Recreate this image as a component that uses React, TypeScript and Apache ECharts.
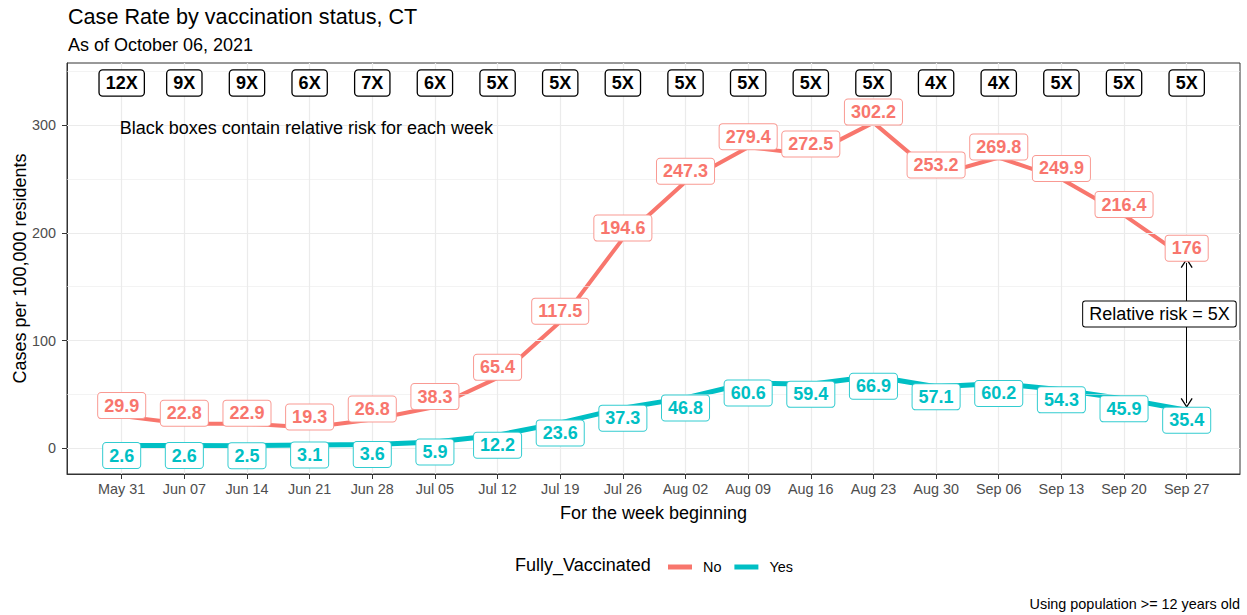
import React, { useEffect, useRef } from "react";
import * as echarts from "echarts";

const weekLabels = ["May 31", "Jun 07", "Jun 14", "Jun 21", "Jun 28", "Jul 05", "Jul 12", "Jul 19", "Jul 26", "Aug 02", "Aug 09", "Aug 16", "Aug 23", "Aug 30", "Sep 06", "Sep 13", "Sep 20", "Sep 27"];
const notVaccinated = [29.9, 22.8, 22.9, 19.3, 26.8, 38.3, 65.4, 117.5, 194.6, 247.3, 279.4, 272.5, 302.2, 253.2, 269.8, 249.9, 216.4, 176];
const fullyVaccinated = [2.6, 2.6, 2.5, 3.1, 3.6, 5.9, 12.2, 23.6, 37.3, 46.8, 60.6, 59.4, 66.9, 57.1, 60.2, 54.3, 45.9, 35.4];
const relativeRisk = ["12X", "9X", "9X", "6X", "7X", "6X", "5X", "5X", "5X", "5X", "5X", "5X", "5X", "4X", "4X", "5X", "5X", "5X"];
const yTicks = [0, 100, 200, 300];
const yMinorGrid = [50, 150, 250, 350];
const riskRowValue = 339;
const noteText = "Black boxes contain relative risk for each week";
const notePoint = [-0.03, 297];
const riskNoteText = "Relative risk = 5X";
const riskNotePoint = [16.565, 124.6];
const arrowWeek = 17;
const arrowTop = 172;
const arrowBottom = 42;

const FONT = "'Liberation Sans', Arial, Helvetica, sans-serif";
const RED = "#F8766D";
const TEAL = "#00BFC4";
const CHEVRON = "path://M5,0 L10,8.6 L9.1,9.2 L5,2.2 L0.9,9.2 L0,8.6 Z";
const HIDDEN_POINT = { color: "rgba(0,0,0,0)", opacity: 1 };

export default function App() {
  const ref = useRef<HTMLDivElement>(null);

  useEffect(() => {
    const chart = echarts.init(ref.current!, null, { renderer: "svg" });
    const xIdx = weekLabels.map((_, i) => i);
    const gridLines = [
      ...yMinorGrid.map((v) => ({ yAxis: v, lineStyle: { width: 0.6, color: "#EBEBEB", type: "solid" } })),
      ...yTicks.map((v) => ({ yAxis: v, lineStyle: { width: 1.2, color: "#EBEBEB", type: "solid" } })),
      ...xIdx.map((v) => ({ xAxis: v, lineStyle: { width: 1.2, color: "#EBEBEB", type: "solid" } })),
    ];

    const valueLabel = (color: string, border: string, values: number[], dy: number) => ({
      show: true,
      position: "inside",
      offset: [0, dy],
      formatter: (p: any) => String(values[p.dataIndex]),
      color,
      opacity: 1,
      fontFamily: FONT,
      fontWeight: "bold",
      fontSize: 18,
      lineHeight: 19,
      backgroundColor: "#ffffff",
      borderColor: border,
      borderWidth: 1,
      borderRadius: 3,
      padding: [3, 6, 3, 6],
    });

    const option: any = {
      animation: false,
      backgroundColor: "#ffffff",
      grid: {
        left: 67,
        right: 7,
        top: 63,
        bottom: 141,
        show: true,
        backgroundColor: "#ffffff",
        borderColor: "#333333",
        borderWidth: 1,
        containLabel: false,
      },
      xAxis: {
        type: "value",
        min: -0.873,
        max: 17.851,
        splitLine: { show: false },
        axisLine: { show: true, onZero: false, lineStyle: { color: "#333333" } },
        axisTick: { show: true, length: 5, customValues: xIdx, lineStyle: { color: "#333333" } },
        axisLabel: {
          customValues: xIdx,
          formatter: (v: number) => weekLabels[Math.round(v)] ?? "",
          color: "#4D4D4D",
          fontFamily: FONT,
          fontSize: 14.4,
          margin: 8,
        },
      },
      yAxis: {
        type: "value",
        min: -23.8,
        max: 357.5,
        splitLine: { show: false },
        axisLine: { show: true, onZero: false, lineStyle: { color: "#333333" } },
        axisTick: { show: true, length: 5, customValues: yTicks, lineStyle: { color: "#333333" } },
        axisLabel: {
          customValues: yTicks,
          color: "#4D4D4D",
          fontFamily: FONT,
          fontSize: 14.4,
          margin: 11,
        },
      },
      legend: {
        data: ["No", "Yes"],
        left: 663,
        top: 555,
        icon: "rect",
        itemWidth: 24,
        itemHeight: 5,
        itemGap: 13,
        textStyle: { fontFamily: FONT, fontSize: 14.4, color: "#000000", padding: [0, 0, 0, 6] },
        selectedMode: false,
      },
      graphic: [
        { type: "text", x: 68, y: 16, style: { text: "Case Rate by vaccination status, CT", fontFamily: FONT, fontSize: 21.6, fill: "#000000", align: "left", verticalAlign: "middle" } },
        { type: "text", x: 68, y: 45, style: { text: "As of October 06, 2021", fontFamily: FONT, fontSize: 18, fill: "#000000", align: "left", verticalAlign: "middle" } },
        { type: "text", x: 20, y: 268.5, rotation: Math.PI / 2, style: { text: "Cases per 100,000 residents", fontFamily: FONT, fontSize: 18, fill: "#000000", align: "center", verticalAlign: "middle" } },
        { type: "text", x: 653.5, y: 513, style: { text: "For the week beginning", fontFamily: FONT, fontSize: 18, fill: "#000000", align: "center", verticalAlign: "middle" } },
        { type: "text", x: 515, y: 565, style: { text: "Fully_Vaccinated", fontFamily: FONT, fontSize: 18, fill: "#000000", align: "left", verticalAlign: "middle" } },
        { type: "text", x: 1240, y: 604, style: { text: "Using population >= 12 years old", fontFamily: FONT, fontSize: 14.4, fill: "#000000", align: "right", verticalAlign: "middle" } },
      ],
      series: [
        {
          name: "grid",
          type: "line",
          data: [[0, 0]],
          symbol: "none",
          lineStyle: { width: 0 },
          silent: true,
          z: 1,
          markLine: {
            silent: true,
            symbol: ["none", "none"],
            label: { show: false },
            emphasis: { disabled: true },
            data: gridLines,
          },
        },
        {
          name: "No",
          type: "line",
          data: notVaccinated.map((v, i) => [i, v]),
          color: RED,
          symbol: "none",
          lineStyle: { width: 4, color: RED },
          silent: true,
          z: 3,
        },
        {
          name: "Yes",
          type: "line",
          data: fullyVaccinated.map((v, i) => [i, v]),
          color: TEAL,
          symbol: "none",
          lineStyle: { width: 5, color: TEAL },
          silent: true,
          z: 3,
        },
        {
          name: "arrow",
          type: "line",
          data: [[arrowWeek, arrowBottom]],
          symbol: "none",
          lineStyle: { width: 0 },
          silent: true,
          z: 4,
          markLine: {
            silent: true,
            symbol: [CHEVRON, CHEVRON],
            symbolSize: [12, 10],
            label: { show: false },
            lineStyle: { color: "#000000", width: 1, type: "solid" },
            data: [[{ coord: [arrowWeek, arrowTop] }, { coord: [arrowWeek, arrowBottom] }]],
          },
        },
        {
          name: "No labels",
          type: "scatter",
          data: notVaccinated.map((v, i) => [i, v]),
          symbolSize: 1,
          itemStyle: HIDDEN_POINT,
          silent: true,
          z: 6,
          label: valueLabel(RED, "#F99A93", notVaccinated, -10.5),
        },
        {
          name: "Yes labels",
          type: "scatter",
          data: fullyVaccinated.map((v, i) => [i, v]),
          symbolSize: 1,
          itemStyle: HIDDEN_POINT,
          silent: true,
          z: 6,
          label: valueLabel(TEAL, "#33CCD0", fullyVaccinated, 10),
        },
        {
          name: "risk",
          type: "scatter",
          data: relativeRisk.map((_, i) => [i, riskRowValue]),
          symbolSize: 1,
          itemStyle: HIDDEN_POINT,
          silent: true,
          z: 6,
          label: {
            show: true,
            position: "inside",
            formatter: (p: any) => relativeRisk[p.dataIndex],
            color: "#000000",
            opacity: 1,
            fontFamily: FONT,
            fontWeight: "bold",
            fontSize: 18,
            lineHeight: 19,
            backgroundColor: "#ffffff",
            borderColor: "#000000",
            borderWidth: 1.3,
            borderRadius: 3,
            padding: [3, 6, 3, 6],
          },
        },
        {
          name: "notes",
          type: "scatter",
          symbolSize: 1,
          itemStyle: HIDDEN_POINT,
          silent: true,
          z: 7,
          data: [
            {
              value: notePoint,
              label: {
                show: true,
                position: "inside",
                align: "left",
                formatter: noteText,
                color: "#000000",
                opacity: 1,
                fontFamily: FONT,
                fontSize: 18,
              },
            },
            {
              value: riskNotePoint,
              label: {
                show: true,
                position: "inside",
                formatter: riskNoteText,
                color: "#000000",
                opacity: 1,
                fontFamily: FONT,
                fontSize: 18,
                lineHeight: 19,
                backgroundColor: "#ffffff",
                borderColor: "#000000",
                borderWidth: 1,
                borderRadius: 2,
                padding: [3, 6, 3, 6],
              },
            },
          ],
        },
      ],
    };

    chart.setOption(option);
    return () => chart.dispose();
  }, []);

  return <div ref={ref} style={{ position: "fixed", left: 0, top: 0, width: 1247, height: 615 }} />;
}
